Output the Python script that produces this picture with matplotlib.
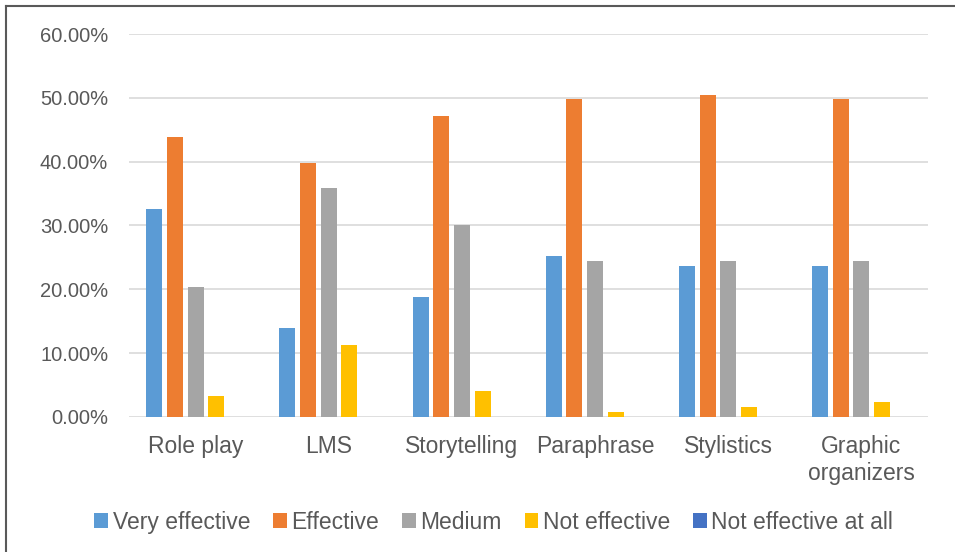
import matplotlib
matplotlib.use("Agg")
import matplotlib.pyplot as plt
import numpy as np
from matplotlib.lines import Line2D
from matplotlib.ticker import FuncFormatter

categories = ["Role play", "LMS", "Storytelling", "Paraphrase", "Stylistics", "Graphic\norganizers"]
series_names = ["Very effective", "Effective", "Medium", "Not effective", "Not effective at all"]
very_effective = [32.6, 13.9, 18.8, 25.2, 23.6, 23.6]
effective = [43.9, 39.8, 47.2, 49.8, 50.5, 49.8]
medium = [20.3, 35.9, 30.0, 24.4, 24.4, 24.4]
not_effective = [3.3, 11.3, 4.1, 0.8, 1.6, 2.4]
not_effective_at_all = [0, 0, 0, 0, 0, 0]
colors = ["#5B9BD5", "#ED7D31", "#A5A5A5", "#FFC000", "#4472C4"]

plt.rcParams["font.family"] = ["Liberation Sans", "DejaVu Sans"]
text_color = "#595959"

fig = plt.figure(figsize=(9.55, 5.52), dpi=100)
ax = fig.add_axes([0.1351, 0.2446, 0.8366, 0.6938])

values = [very_effective, effective, medium, not_effective, not_effective_at_all]
x = np.arange(len(categories))
slot = 0.155
for k, (name, vals, col) in enumerate(zip(series_names, values, colors)):
    ax.bar(x + (k - 2) * slot, vals, width=0.12, color=col, label=name, zorder=3)

ax.set_xlim(-0.5, len(categories) - 0.5)
ax.set_ylim(0, 60)
ax.set_yticks(np.arange(0, 61, 10))
ax.yaxis.set_major_formatter(FuncFormatter(lambda v, p: f"{v:.2f}%"))
ax.grid(axis="y", color="#D9D9D9", linewidth=1.2, zorder=0)
for s in ax.spines.values():
    s.set_visible(False)
ax.tick_params(axis="both", length=0, colors=text_color)
ax.tick_params(axis="y", labelsize=14.5, pad=15)
ax.set_xticks(x)
ax.set_xticklabels(categories, fontsize=16.5, linespacing=1.2)
ax.tick_params(axis="x", pad=13)

leg = fig.legend(loc="center", bbox_to_anchor=(0.517, 0.054), ncol=5, frameon=False,
                 fontsize=16.5, handlelength=0.6, handleheight=0.6, handletextpad=0.2,
                 columnspacing=1.0, labelcolor=text_color)

# outer frame (top and left edges visible)
fig.add_artist(Line2D([5.5 / 955, 1.0], [1 - 6 / 552, 1 - 6 / 552], transform=fig.transFigure,
                      color="#595959", linewidth=1.5))
fig.add_artist(Line2D([5.5 / 955, 5.5 / 955], [0, 1 - 6 / 552], transform=fig.transFigure,
                      color="#595959", linewidth=1.5))

fig.savefig("out.png", dpi=100)
